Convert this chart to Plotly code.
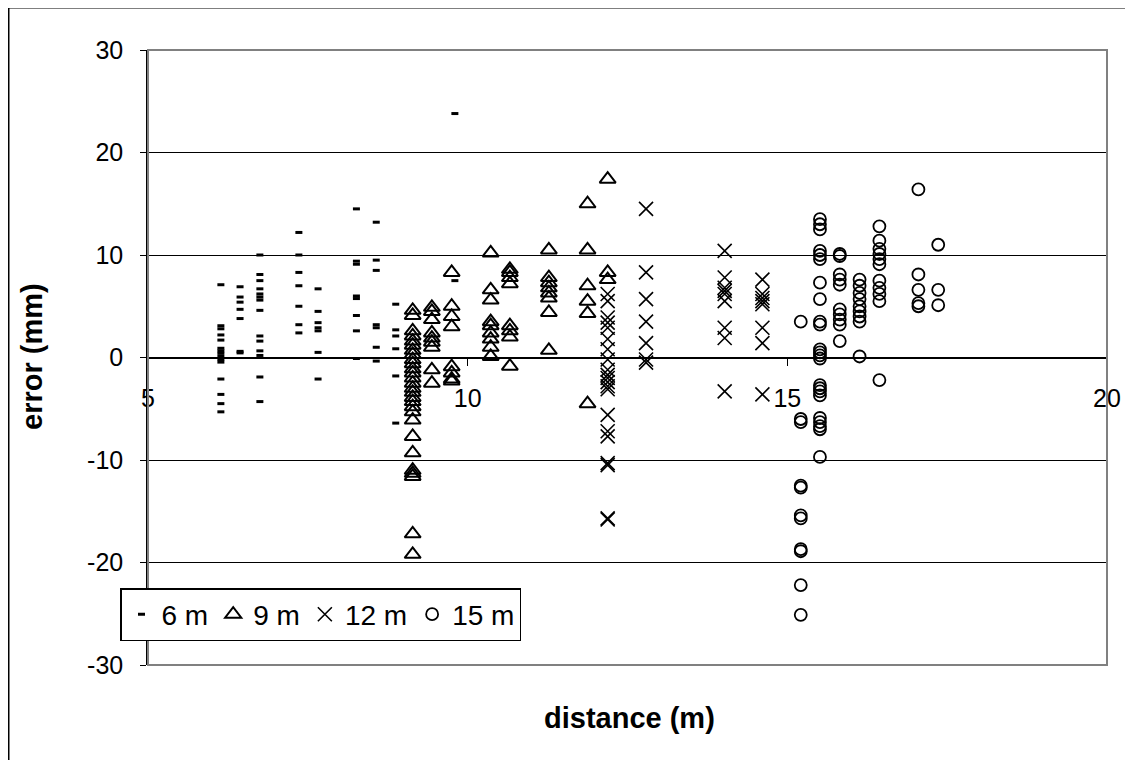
import plotly.graph_objects as go

# ---- data (distance column positions and error readings per column) ----
d6 = [6.14, 6.44, 6.75, 7.36, 7.66, 8.26, 8.57, 8.875, 9.8]
e6 = [
    [7.1, 3.1, 2.8, 2.2, 1.7, 0.9, 0.65, 0.4, 0.1, -0.2, -0.45, -2.1, -3.6, -4.5, -5.3],
    [6.9, 5.9, 5.4, 4.7, 3.8, 0.6, 0.45],
    [10.0, 8.1, 7.5, 6.7, 6.2, 5.9, 5.6, 4.6, 2.1, 1.6, 0.65, 0.2, -1.9, -4.3],
    [12.2, 10.0, 8.3, 7.0, 5.0, 3.2, 2.4],
    [6.7, 4.5, 3.4, 2.9, 2.6, 0.5, -2.1],
    [14.5, 9.4, 9.1, 6.0, 5.75, 4.1, 2.6, -0.1],
    [13.2, 9.5, 8.5, 3.2, 2.9, 1.0, -0.35],
    [5.2, 2.7, 2.1, 0.85, -1.8, -6.4],
    [23.8, 7.5],
]

d9 = [9.14, 9.44, 9.75, 10.36, 10.66, 11.27, 11.875, 12.19]
e9 = [
    [4.6, 4.1, 2.6, 2.1, 1.6, 1.2, 0.7, 0.3, -0.2, -0.6, -1.1, -1.5, -2.0, -2.5,
     -3.0, -3.4, -3.9, -4.3, -4.8, -5.3, -6.1, -7.7, -9.3, -11.0, -11.3, -11.6, -17.2, -19.2],
    [4.9, 4.5, 3.7, 2.4, 1.9, 1.5, 1.0, -1.2, -2.5],
    [8.3, 5.0, 4.0, 3.0, -0.9, -1.5, -2.1, -2.3],
    [10.2, 6.6, 5.6, 3.5, 3.1, 2.4, 1.8, 1.0, 0.1],
    [8.6, 8.3, 7.8, 7.2, 3.1, 2.6, 2.0, -0.85],
    [10.5, 7.8, 7.3, 6.8, 6.3, 5.8, 4.4, 0.7],
    [15.0, 10.5, 7.0, 5.5, 4.3, -4.5],
    [17.4, 8.3, 7.6],
]

d12 = [12.19, 12.79, 14.02, 14.61]
e12 = [
    [6.2, 5.5, 3.9, 3.4, 2.9, 1.8, 0.8, -0.2, -1.2, -1.7, -2.0, -2.4, -2.8, -3.1,
     -5.6, -7.2, -7.7, -10.3, -10.5, -15.7, -15.8],
    [14.5, 8.3, 5.7, 3.5, 1.4, -0.2, -0.5],
    [10.4, 7.8, 6.8, 6.5, 6.2, 5.5, 2.9, 1.9, -3.3],
    [7.6, 6.2, 5.8, 5.5, 5.2, 2.9, 1.4, -3.6],
]

d15 = [15.21, 15.51, 15.82, 16.13, 16.44, 17.05, 17.36]
e15 = [
    [3.5, -6.0, -6.3, -12.5, -12.7, -15.4, -15.7, -18.7, -18.9, -22.2, -25.1],
    [13.5, 13.0, 12.5, 10.4, 10.0, 9.6, 7.3, 5.7, 3.5, 3.2, 0.8, 0.5, 0.2, -0.1,
     -2.7, -3.0, -3.3, -3.7, -5.9, -6.3, -6.7, -7.0, -9.7],
    [10.1, 9.9, 8.1, 7.6, 7.1, 4.7, 4.2, 3.7, 3.2, 1.6],
    [7.6, 7.0, 6.3, 5.7, 5.0, 4.5, 4.0, 3.5, 0.1],
    [12.8, 11.4, 10.6, 10.1, 9.6, 9.1, 7.5, 6.8, 6.2, 5.5, -2.2],
    [16.4, 8.1, 6.6, 5.3, 5.0],
    [11.0, 6.6, 5.1],
]

series_names = ["6 m", "9 m", "12 m", "15 m"]
x_ticks = [5, 10, 15, 20]
y_ticks = [-30, -20, -10, 0, 10, 20, 30]


def flatten(dists, errs):
    xs, ys = [], []
    for d, col in zip(dists, errs):
        for e in col:
            xs.append(d)
            ys.append(e)
    return xs, ys


FONT = "Liberation Sans, Arial, sans-serif"
# page body has an 8px margin, so the figure is drawn from (8, 8)
W, H = 1125, 752
ML, MT = 140, 42
PW, PH = 959, 615
MR, MB = W - ML - PW, H - MT - PH

fig = go.Figure()
styles = [
    dict(symbol="line-ew-open", size=5, line=dict(width=3, color="black"), color="black"),
    dict(symbol="triangle-up-open", size=14, line=dict(width=2, color="black"), color="black"),
    dict(symbol="x-thin-open", size=14, line=dict(width=1.6, color="black"), color="black"),
    dict(symbol="circle-open", size=12, line=dict(width=1.8, color="black"), color="black"),
]
for name, (ds, es), st in zip(series_names, [(d6, e6), (d9, e9), (d12, e12), (d15, e15)], styles):
    xs, ys = flatten(ds, es)
    fig.add_trace(go.Scatter(x=xs, y=ys, mode="markers", name=name, marker=st,
                             cliponaxis=False))

page_y = lambda py: 1 - (py - 8 - MT) / PH   # page pixel -> paper y
page_x = lambda px: (px - 8 - ML) / PW       # page pixel -> paper x

fig.update_layout(
    width=W, height=H, autosize=False,
    margin=dict(l=ML, r=MR, t=MT, b=MB),
    paper_bgcolor="white", plot_bgcolor="white",
    font=dict(family=FONT, size=25, color="black"),
    showlegend=True,
    legend=dict(orientation="h", x=page_x(120), y=page_y(588),
                xanchor="left", yanchor="top", bgcolor="white",
                bordercolor="black", borderwidth=1.5,
                font=dict(family=FONT, size=28, color="black"),
                itemwidth=30, tracegroupgap=0),
    xaxis=dict(range=[5, 20], tickvals=x_ticks, ticktext=[str(v) for v in x_ticks],
               showgrid=False, zeroline=False, showline=True, linecolor="black", linewidth=2,
               ticks="outside", ticklen=7, tickcolor="black", tickwidth=1,
               anchor="free", position=0.5, ticklabelstandoff=11,
               tickfont=dict(family=FONT, size=25, color="black")),
    yaxis=dict(range=[-30, 30], tickvals=y_ticks, ticktext=[str(v) for v in y_ticks],
               showgrid=True, gridcolor="black", gridwidth=1, zeroline=False,
               showline=True, linecolor="black", linewidth=1.5,
               ticks="outside", ticklen=6, tickcolor="black", tickwidth=1,
               ticklabelstandoff=12,
               tickfont=dict(family=FONT, size=25, color="black")),
    annotations=[
        dict(text="<b>distance (m)</b>", xref="paper", yref="paper",
             x=page_x(629), y=page_y(718), xanchor="center", yanchor="middle",
             showarrow=False, font=dict(family=FONT, size=29, color="black")),
        dict(text="<b>error (mm)</b>", xref="paper", yref="paper", textangle=-90,
             x=page_x(32), y=page_y(357), xanchor="center", yanchor="middle",
             showarrow=False, font=dict(family=FONT, size=29, color="black")),
    ],
    shapes=[
        dict(type="rect", xref="paper", yref="paper", x0=0, x1=1, y0=0, y1=1,
             line=dict(color="#808080", width=2), layer="above"),
        dict(type="rect", xref="paper", yref="paper",
             x0=page_x(8.75), x1=page_x(1160),
             y0=page_y(790), y1=page_y(7.75),
             line=dict(color="black", width=1.5), layer="above"),
    ],
)

fig.write_html("out.html")
